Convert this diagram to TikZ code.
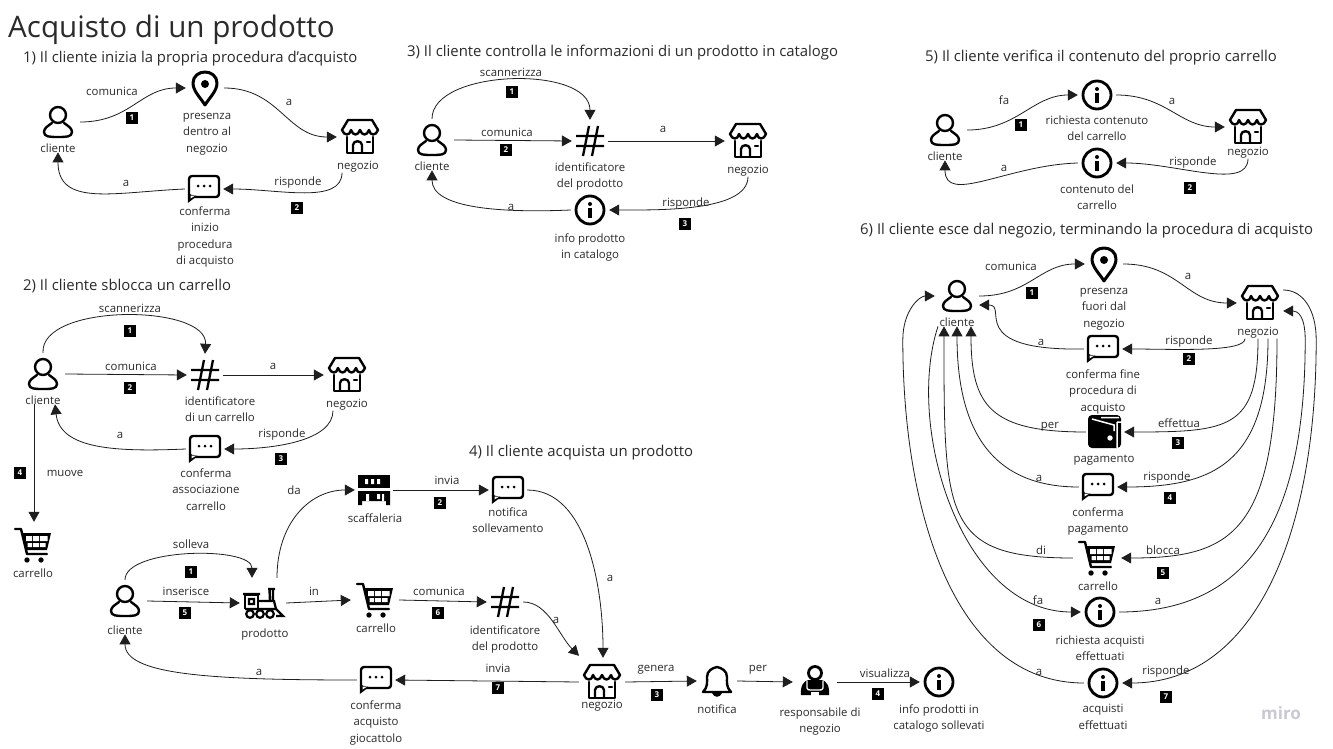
\documentclass[tikz,border=0pt]{standalone}
\usepackage{fontspec}
\setmainfont{Open Sans}
\usetikzlibrary{
  arrows.meta,
  positioning
}
\definecolor{textprimary}{HTML}{2B2B2B}
\definecolor{arrowcolor}{HTML}{1E1E1E}
\definecolor{logo}{HTML}{C9C9D6}
\newcommand{\iconnode}[3]{\node[#1box] (#2) at (#3) {}; \pic at (#2) {#1icon};}
\tikzset{
  base/.style={
    text=textprimary,
    align=center,
    inner sep=0pt,
  },
  title/.style={
    base,
    anchor=base west,
    font=\fontsize{29.6}{34}\selectfont,
  },
  heading/.style={
    base,
    anchor=west,
    font=\fontsize{14.9}{17}\selectfont,
  },
  nlabel/.style={
    base,
    font=\fontsize{11.4}{16.6}\selectfont,
  },
  elabel/.style={
    base,
    font=\fontsize{11.4}{13}\selectfont,
  },
  badge/.style={
    fill=black,
    text=white,
    font=\fontsize{8}{8}\selectfont\bfseries,
    minimum size=12pt,
    inner sep=0pt,
  },
  flow/.style={
    -{Triangle[length=10pt, width=11pt]},
    line width=0.8pt,
    draw=arrowcolor,
  },
  iconline/.style={
    draw=black,
    line width=2.4pt,
    line cap=round,
    line join=round,
  },
  iconbox/.style={minimum height=2*#1, inner sep=0pt},
  personbox/.style={iconbox=21pt, minimum width=44pt},
  pinbox/.style={iconbox=24.5pt, minimum width=38pt},
  storebox/.style={iconbox=24pt, minimum width=46pt},
  bubblebox/.style={iconbox=17pt, minimum width=38pt},
  hashbox/.style={iconbox=21pt, minimum width=36pt},
  infobox/.style={iconbox=23pt, minimum width=38pt},
  cartbox/.style={iconbox=23pt, minimum width=48pt},
  trainbox/.style={iconbox=25pt, minimum width=46pt},
  shelfbox/.style={iconbox=23pt, minimum width=38pt},
  walletbox/.style={iconbox=23pt, minimum width=38pt},
  bellbox/.style={iconbox=23pt, minimum width=40pt},
  respbox/.style={iconbox=25pt, minimum width=44pt},
  personicon/.pic={
    \draw[iconline] (0,-7) circle (8);
    \draw[iconline] (-6,1) .. controls (-10,4) and (-14,6) .. (-14,10)
      .. controls (-14,15) and (-8,15) .. (0,15)
      .. controls (8,15) and (14,15) .. (14,10)
      .. controls (14,6) and (10,4) .. (6,1);
  },
  pinicon/.pic={
    \draw[iconline, line width=3pt] (0,17) .. controls (-5,9) and (-12,3) .. (-12,-5)
      .. controls (-12,-12) and (-6,-16) .. (0,-16)
      .. controls (6,-16) and (12,-12) .. (12,-5)
      .. controls (12,3) and (5,9) .. (0,17) -- cycle;
    \fill (0,-4) circle (4);
  },
  storeicon/.pic={
    \draw[iconline] (-12,-17) -- (12,-17) -- (18,-7)
      .. controls (16,-1) and (10,-1) .. (9,-7)
      .. controls (7,-1) and (2,-1) .. (0,-7)
      .. controls (-2,-1) and (-7,-1) .. (-9,-7)
      .. controls (-10,-1) and (-16,-1) .. (-18,-7) -- cycle;
    \draw[iconline] (-13,0) -- (-13,16) -- (13,16) -- (13,0);
    \draw[iconline] (-7,16) -- (-7,8) .. controls (-7,3) and (2,3) .. (2,8) -- (2,16);
    \draw[iconline] (7,5) -- (10,5);
  },
  bubbleicon/.pic={
    \draw[iconline, rounded corners=3pt] (-15,-13) rectangle (15,8);
    \fill[black] (-16.2,5) -- (-16.2,14) -- (-7,7) -- cycle;
    \fill[white] (-13.5,6.7) -- (-13.5,9.5) -- (-9,6.7) -- cycle;
    \fill (-6,-3) circle (1.5) (0,-3) circle (1.5) (6,-3) circle (1.5);
  },
  hashicon/.pic={
    \draw[black, line width=2.3pt] (-14,-5) -- (14,-5) (-14,5) -- (14,5)
      (-1,-15) -- (-7,15) (8,-15) -- (2,15);
  },
  infoicon/.pic={
    \draw[iconline, line width=2.8pt] (0,0) circle (14);
    \fill (0,-6) circle (2);
    \draw[black, line width=3.2pt] (0,-2) -- (0,8);
  },
  carticon/.pic={
    \draw[iconline] (-18,-16) -- (-12,-16) -- (-6,9) -- (14,9);
    \fill (-11,-12) -- (18,-12) -- (14,5) -- (-6,5) -- cycle;
    \fill[white] (-7,-9) rectangle (-1,-4) (0,-9) rectangle (6,-4) (7,-9) rectangle (14.5,-4)
      (-5.5,-2) rectangle (-1,2) (0,-2) rectangle (6,2) (7,-2) rectangle (12.5,2);
    \fill (-6,15) circle (2.7) (8,15) circle (2.7);
  },
  trainicon/.pic={
    \draw[black, line width=2.2pt, line join=round] (-18,6) -- (-18,-8) -- (-5,-8) -- (-5,6);
    \draw[black, line width=2.4pt] (-20,-9) -- (-3,-9) (-18,6) -- (13,6) -- (20,13) -- (13,13);
    \draw[black, line width=2.2pt] (-14,-4) rectangle (-9,1) (-5,-2) -- (11,-2) -- (13,6);
    \draw[black, line width=2.4pt] (5,-14) -- (12,-14) (6.5,-14) -- (7,-2) (10,-14) -- (10,-2);
    \draw[black, line width=2.2pt, fill=white] (-13,11) circle (3.8) (-3,11) circle (3.8) (7,11) circle (3.8);
  },
  shelficon/.pic={
    \fill (-16,-15) rectangle (16,-2);
    \fill[white] (-9,-11) rectangle (-6,-6) (-3,-11) rectangle (0,-6) (3,-11) rectangle (6,-6);
    \fill (-16,1) -- (16,1) -- (16,15) -- (12,15) -- (12,11) -- (-12,11) -- (-12,15) -- (-16,15) -- cycle;
    \fill[white] (-8,4) rectangle (-5,11) (3,4) rectangle (6,9) (8,4) rectangle (10,11);
  },
  walleticon/.pic={
    \fill[rounded corners=4pt] (-17,-17) rectangle (16,16);
    \draw[white, line width=1.5pt] (-13,-13) -- (9,-7) -- (9,-1) (-4,-14.5) -- (14,-14.5)
      (12,-10) -- (17,-10) (12,-10) -- (12,16);
    \fill[white] (5,6) circle (2.7);
  },
  bellicon/.pic={
    \draw[iconline] (-14,11) -- (14,11) .. controls (9,6) and (10,1) .. (10,-4)
      .. controls (10,-10) and (5,-13) .. (0,-14)
      .. controls (-5,-13) and (-10,-10) .. (-10,-4)
      .. controls (-10,1) and (-9,6) .. (-14,11) -- cycle;
    \fill (-5,12) .. controls (-3,17) and (3,17) .. (5,12) -- cycle;
  },
  respicon/.pic={
    \draw[iconline, line width=2.8pt] (0,-9) circle (6.5);
    \fill (-14,13) .. controls (-15,4) and (-11,-2) .. (-6,-2) -- (6,-2)
      .. controls (11,-2) and (15,4) .. (14,13) -- cycle;
    \draw[white, line width=1.3pt] (-8,-1) -- (-8,6) .. controls (-8,8) and (-6,8) .. (-4,8) -- (4,8)
      .. controls (6,8) and (8,8) .. (8,6) -- (8,-1);
    \fill[white] (-4,10) rectangle (4,13.5);
  },
}
\begin{document}
\begin{tikzpicture}[x=1pt, y=-1pt]

\fill[white] (0,0) rectangle (1333,749);
\useasboundingbox (0,0) rectangle (1333,749);

\node[title] (title) at (8,38) {Acquisto di un prodotto};
\node[elabel, text=logo, font=\fontsize{17}{17}\selectfont\bfseries] (miro) at (1281,713) {miro};

% === 1: Inizio procedura ===

\node[heading] (head1) at (23,59) {1) Il cliente inizia la propria procedura d'acquisto};

\iconnode{person}{cli1}{58,122}
\node[nlabel, below=0pt of cli1] (cli1l) {cliente};
\iconnode{pin}{pin1}{205,88}
\node[nlabel, below=0pt of pin1, xshift=2pt] (pin1l) {presenza\\dentro al\\negozio};
\iconnode{store}{neg1}{360,137}
\node[nlabel, below=0pt of neg1, xshift=-2pt] (neg1l) {negozio};
\iconnode{bubble}{bub1}{204,189}
\node[nlabel, below=0pt of bub1, xshift=1pt] (bub1l) {conferma\\inizio\\procedura\\di acquisto};

\draw[flow] (cli1.east) .. controls +(50,0) and +(-45,0) .. (pin1.west)
  node[elabel, at={(112,91)}] {comunica} node[badge, at={(132,118)}] {1};
\draw[flow] (pin1.east) .. controls +(55,0) and +(-50,0) .. (neg1.west)
  node[elabel, at={(289,102)}] {a};
\draw[flow] ([xshift=-16pt]neg1l.south) .. controls +(0,32) and +(55,0) .. (bub1.east)
  node[elabel, at={(298,183)}] {risponde} node[badge, at={(297,208)}] {2};
\draw[flow] (bub1.west) .. controls +(-70,3) and +(0,55) .. (cli1l.south)
  node[elabel, at={(126,183)}] {a};

% === 2: Sblocco carrello ===

\node[heading] (head2) at (23,286) {2) Il cliente sblocca un carrello};

\iconnode{person}{cli2}{43,374}
\node[nlabel, below=0pt of cli2] (cli2l) {cliente};
\iconnode{hash}{hash2}{205,375}
\node[nlabel, below=0pt of hash2, xshift=15pt] (hash2l) {identificatore\\di un carrello};
\iconnode{store}{neg2}{347,375}
\node[nlabel, below=0pt of neg2] (neg2l) {negozio};
\iconnode{bubble}{bub2}{205,449}
\node[nlabel, below=0pt of bub2, xshift=1pt, yshift=-2pt] (bub2l) {conferma\\associazione\\carrello};
\iconnode{cart}{cart2}{33,545}
\node[nlabel, below=0pt of cart2] (cart2l) {carrello};

\draw[flow] (cli2.north) .. controls +(-3,-50) and +(3,-50) .. (hash2.north)
  node[elabel, at={(130,308)}] {scannerizza} node[badge, at={(130,331)}] {1};
\draw[flow] (cli2.east) -- (hash2.west)
  node[elabel, at={(131,366)}] {comunica} node[badge, at={(130,388)}] {2};
\draw[flow] (hash2.east) -- (neg2.west)
  node[elabel, at={(273,366)}] {a};
\draw[flow] ([xshift=-14pt]neg2l.south) .. controls +(0,30) and +(50,0) .. (bub2.east)
  node[elabel, at={(282,435)}] {risponde} node[badge, at={(281,459)}] {3};
\draw[flow] (bub2.west) .. controls +(-70,3) and +(5,45) .. ([xshift=12pt]cli2l.south)
  node[elabel, at={(120,435)}] {a};
\draw[flow] ([xshift=-9pt]cli2l.south) -- ([xshift=1pt]cart2.north)
  node[elabel, at={(65,473)}] {muove} node[badge, at={(20,473)}] {4};

% === 3: Info prodotto ===

\node[heading] (head3) at (407,53) {3) Il cliente controlla le informazioni di un prodotto in catalogo};

\iconnode{person}{cli3}{432,140}
\node[nlabel, below=0pt of cli3] (cli3l) {cliente};
\iconnode{hash}{hash3}{590,141}
\node[nlabel, below=0pt of hash3] (hash3l) {identificatore\\del prodotto};
\iconnode{store}{neg3}{748,141}
\node[nlabel, below=0pt of neg3] (neg3l) {negozio};
\iconnode{info}{info3}{590,210}
\node[nlabel, below=0pt of info3] (info3l) {info prodotto\\in catalogo};

\draw[flow] (cli3.north) .. controls +(0,-50) and +(0,-55) .. (hash3.north)
  node[elabel, at={(511,72)}] {scannerizza} node[badge, at={(512,92)}] {1};
\draw[flow] (cli3.east) -- (hash3.west)
  node[elabel, at={(507,132)}] {comunica} node[badge, at={(506,150)}] {2};
\draw[flow] (hash3.east) -- (neg3.west)
  node[elabel, at={(663,129)}] {a};
\draw[flow] (neg3l.south) .. controls +(0,35) and +(50,0) .. (info3.east)
  node[elabel, at={(686,204)}] {risponde} node[badge, at={(685,224)}] {3};
\draw[flow] (info3.west) .. controls +(-70,3) and +(0,38) .. (cli3l.south)
  node[elabel, at={(511,207)}] {a};

% === 5: Contenuto carrello ===

\node[heading] (head5) at (925,58) {5) Il cliente verifica il contenuto del proprio carrello};

\iconnode{person}{cli5}{945,130}
\node[nlabel, below=0pt of cli5] (cli5l) {cliente};
\iconnode{info}{info5a}{1097,95}
\node[nlabel, below=0pt of info5a, yshift=3pt] (info5al) {richiesta contenuto\\del carrello};
\iconnode{store}{neg5}{1248,127}
\node[nlabel, below=0pt of neg5, yshift=4pt] (neg5l) {negozio};
\iconnode{info}{info5b}{1097,163}
\node[nlabel, below=0pt of info5b, yshift=2pt] (info5bl) {contenuto del\\carrello};

\draw[flow] (cli5.east) .. controls +(50,0) and +(-45,0) .. (info5a.west)
  node[elabel, at={(1004,100)}] {fa} node[badge, at={(1021,125)}] {1};
\draw[flow] (info5a.east) .. controls +(50,0) and +(-45,0) .. (neg5.west)
  node[elabel, at={(1172,101)}] {a};
\draw[flow] (neg5l.south) .. controls +(0,32) and +(60,0) .. (info5b.east)
  node[elabel, at={(1193,163)}] {risponde} node[badge, at={(1190,188)}] {2};
\draw[flow] (info5b.west) .. controls +(-70,2) and +(0,45) .. (cli5l.south)
  node[elabel, at={(1004,168)}] {a};

% === 6: Uscita dal negozio ===

\node[heading] (head6) at (860,231) {6) Il cliente esce dal negozio, terminando la procedura di acquisto};

\iconnode{person}{cli6}{957,296}
\node[nlabel, below=0pt of cli6] (cli6l) {cliente};
\iconnode{pin}{pin6}{1104,264}
\node[nlabel, below=0pt of pin6, yshift=1pt] (pin6l) {presenza\\fuori dal\\negozio};
\iconnode{store}{neg6}{1260,303}
\node[nlabel, below=0pt of neg6, xshift=-2pt] (neg6l) {negozio};
\iconnode{bubble}{bub6a}{1103,349}
\node[nlabel, below=0pt of bub6a, yshift=-3pt] (bub6al) {conferma fine\\procedura di\\acquisto};
\iconnode{wallet}{wal6}{1105,432}
\node[nlabel, below=0pt of wal6, xshift=-1pt] (wal6l) {pagamento};
\iconnode{bubble}{bub6b}{1098,487}
\node[nlabel, below=0pt of bub6b, yshift=-3pt] (bub6bl) {conferma\\pagamento};
\iconnode{cart}{cart6}{1097,558}
\node[nlabel, below=0pt of cart6, xshift=1pt] (cart6l) {carrello};
\iconnode{info}{info6a}{1100,612}
\node[nlabel, below=0pt of info6a] (info6al) {richiesta acquisti\\effettuati};
\iconnode{info}{info6b}{1103,683}
\node[nlabel, below=0pt of info6b, yshift=2pt] (info6bl) {acquisti\\effettuati};

\draw[flow] (cli6.east) .. controls +(50,0) and +(-45,0) .. (pin6.west)
  node[elabel, at={(1011,266)}] {comunica} node[badge, at={(1032,293)}] {1};
\draw[flow] (pin6.east) .. controls +(55,0) and +(-50,0) .. (neg6.west)
  node[elabel, at={(1188,276)}] {a};
\draw[flow] ([xshift=-13pt]neg6l.south) .. controls +(0,14) and +(50,0) .. (bub6a.east)
  node[elabel, at={(1189,342)}] {risponde} node[badge, at={(1189,359)}] {2};
\draw[flow] (bub6a.west) .. controls +(-120,2) and +(30,0) .. ([yshift=-9pt]cli6.east)
  node[elabel, at={(1041,342)}] {a};
\draw[flow] ([xshift=0pt]neg6l.south) .. controls +(0,90) and +(105,0) .. (wal6.east)
  node[elabel, at={(1179,423)}] {effettua} node[badge, at={(1178,443)}] {3};
\draw[flow] (wal6.west) .. controls +(-95,0) and +(0,80) .. ([xshift=14pt]cli6l.south)
  node[elabel, at={(1050,427)}] {per};
\draw[flow] ([xshift=10pt]neg6l.south) .. controls +(0,125) and +(95,0) .. (bub6b.east)
  node[elabel, at={(1167,478)}] {risponde} node[badge, at={(1170,498)}] {4};
\draw[flow] (bub6b.west) .. controls +(-90,0) and +(0,100) .. (cli6l.south)
  node[elabel, at={(1039,478)}] {a};
\draw[flow] ([xshift=19pt]neg6l.south) .. controls +(0,195) and +(110,0) .. (cart6.east)
  node[elabel, at={(1163,550)}] {blocca} node[badge, at={(1163,573)}] {5};
\draw[flow] (cart6.west) .. controls +(-130,0) and +(0,190) .. ([xshift=-13pt]cli6l.south)
  node[elabel, at={(1041,550)}] {di};
\draw[flow] ([xshift=-19pt]cli6l.south) .. controls +(-33,100) and +(-120,0) .. (info6a.west)
  node[elabel, at={(1038,600)}] {fa} node[badge, at={(1039,625)}] {6};
\draw[flow] (info6a.east) .. controls +(130,0) and +(0,180) .. ++(186,-272)
  .. controls +(0,-25) and +(14,0) .. ([yshift=-8pt]neg6.east)
  node[elabel, at={(1158,601)}] {a};
\draw[flow] ([yshift=13pt]neg6.east) .. controls +(20,0) and +(0,-30) .. ++(33,50)
  .. controls +(0,200) and +(130,0) .. (info6b.east)
  node[elabel, at={(1166,672)}] {risponde} node[badge, at={(1166,697)}] {7};
\draw[flow] (info6b.west) .. controls +(-130,0) and +(0,170) .. ++(-181,-343)
  .. controls +(0,-30) and +(-15,0) .. (cli6.west)
  node[elabel, at={(1039,672)}] {a};

% === 4: Acquisto ===

\node[heading] (head4) at (469,453) {4) Il cliente acquista un prodotto};

\iconnode{person}{cli4}{125,601}
\node[nlabel, below=0pt of cli4, yshift=-3pt] (cli4l) {cliente};
\iconnode{train}{train4}{263,603}
\node[nlabel, below=0pt of train4, xshift=2pt] (train4l) {prodotto};
\iconnode{shelf}{shelf4}{374,490}
\node[nlabel, below=0pt of shelf4, xshift=1pt] (shelf4l) {scaffaleria};
\iconnode{bubble}{bub4a}{508,490}
\node[nlabel, below=0pt of bub4a] (bub4al) {notifica\\sollevamento};
\iconnode{cart}{cart4}{375,600}
\node[nlabel, below=0pt of cart4, xshift=1pt] (cart4l) {carrello};
\iconnode{hash}{hash4}{505,602}
\node[nlabel, below=0pt of hash4, yshift=-2pt] (hash4l) {identificatore\\del prodotto};
\iconnode{store}{neg4}{602,682}
\node[nlabel, below=0pt of neg4, yshift=6pt] (neg4l) {negozio};
\iconnode{bubble}{bub4b}{376,680}
\node[nlabel, below=0pt of bub4b, yshift=-3pt] (bub4bl) {conferma\\acquisto\\giocattolo};
\iconnode{bell}{bell4}{717,681}
\node[nlabel, below=0pt of bell4] (bell4l) {notifica};
\iconnode{resp}{resp4}{815,682}
\node[nlabel, below=0pt of resp4, xshift=5pt] (resp4l) {responsabile di\\negozio};
\iconnode{info}{info4}{939,682}
\node[nlabel, below=0pt of info4, yshift=1pt] (info4l) {info prodotti in\\catalogo sollevati};

\draw[flow] (cli4.north) .. controls +(0,-32) and +(0,-32) .. ([xshift=-11pt]train4.north)
  node[elabel, at={(191,544)}] {solleva} node[badge, at={(191,572)}] {1};
\draw[flow] (cli4.east) -- (train4.west)
  node[elabel, at={(186,591)}] {inserisce} node[badge, at={(185,613)}] {5};
\draw[flow] ([xshift=14pt]train4.north) .. controls +(0,-55) and +(-45,0) .. (shelf4.west)
  node[elabel, at={(294,490)}] {da};
\draw[flow] (train4.east) -- (cart4.west)
  node[elabel, at={(314,591)}] {in};
\draw[flow] (shelf4.east) -- (bub4a.west)
  node[elabel, at={(447,480)}] {invia} node[badge, at={(440,503)}] {2};
\draw[flow] (cart4.east) -- (hash4.west)
  node[elabel, at={(439,591)}] {comunica} node[badge, at={(438,613)}] {6};
\draw[flow] (bub4a.east) .. controls +(60,0) and +(0,-70) .. ([xshift=1pt]neg4.north)
  node[elabel, at={(610,578)}] {a};
\draw[flow] (hash4.east) .. controls +(25,0) and +(-20,-20) .. ([xshift=-23pt,yshift=2pt]neg4.north)
  node[elabel, at={(556,620)}] {a};
\draw[flow] (neg4.east) -- (bell4.west)
  node[elabel, at={(656,670)}] {genera} node[badge, at={(657,695)}] {3};
\draw[flow] (bell4.east) -- (resp4.west)
  node[elabel, at={(758,670)}] {per};
\draw[flow] (resp4.east) -- (info4.west)
  node[elabel, at={(885,673)}] {visualizza} node[badge, at={(878,694)}] {4};
\draw[flow] (neg4.west) -- (bub4b.east)
  node[elabel, at={(498,668)}] {invia} node[badge, at={(498,688)}] {7};
\draw[flow] (bub4b.west) .. controls +(-150,0) and +(0,40) .. (cli4l.south)
  node[elabel, at={(259,672)}] {a};

\end{tikzpicture}
\end{document}
